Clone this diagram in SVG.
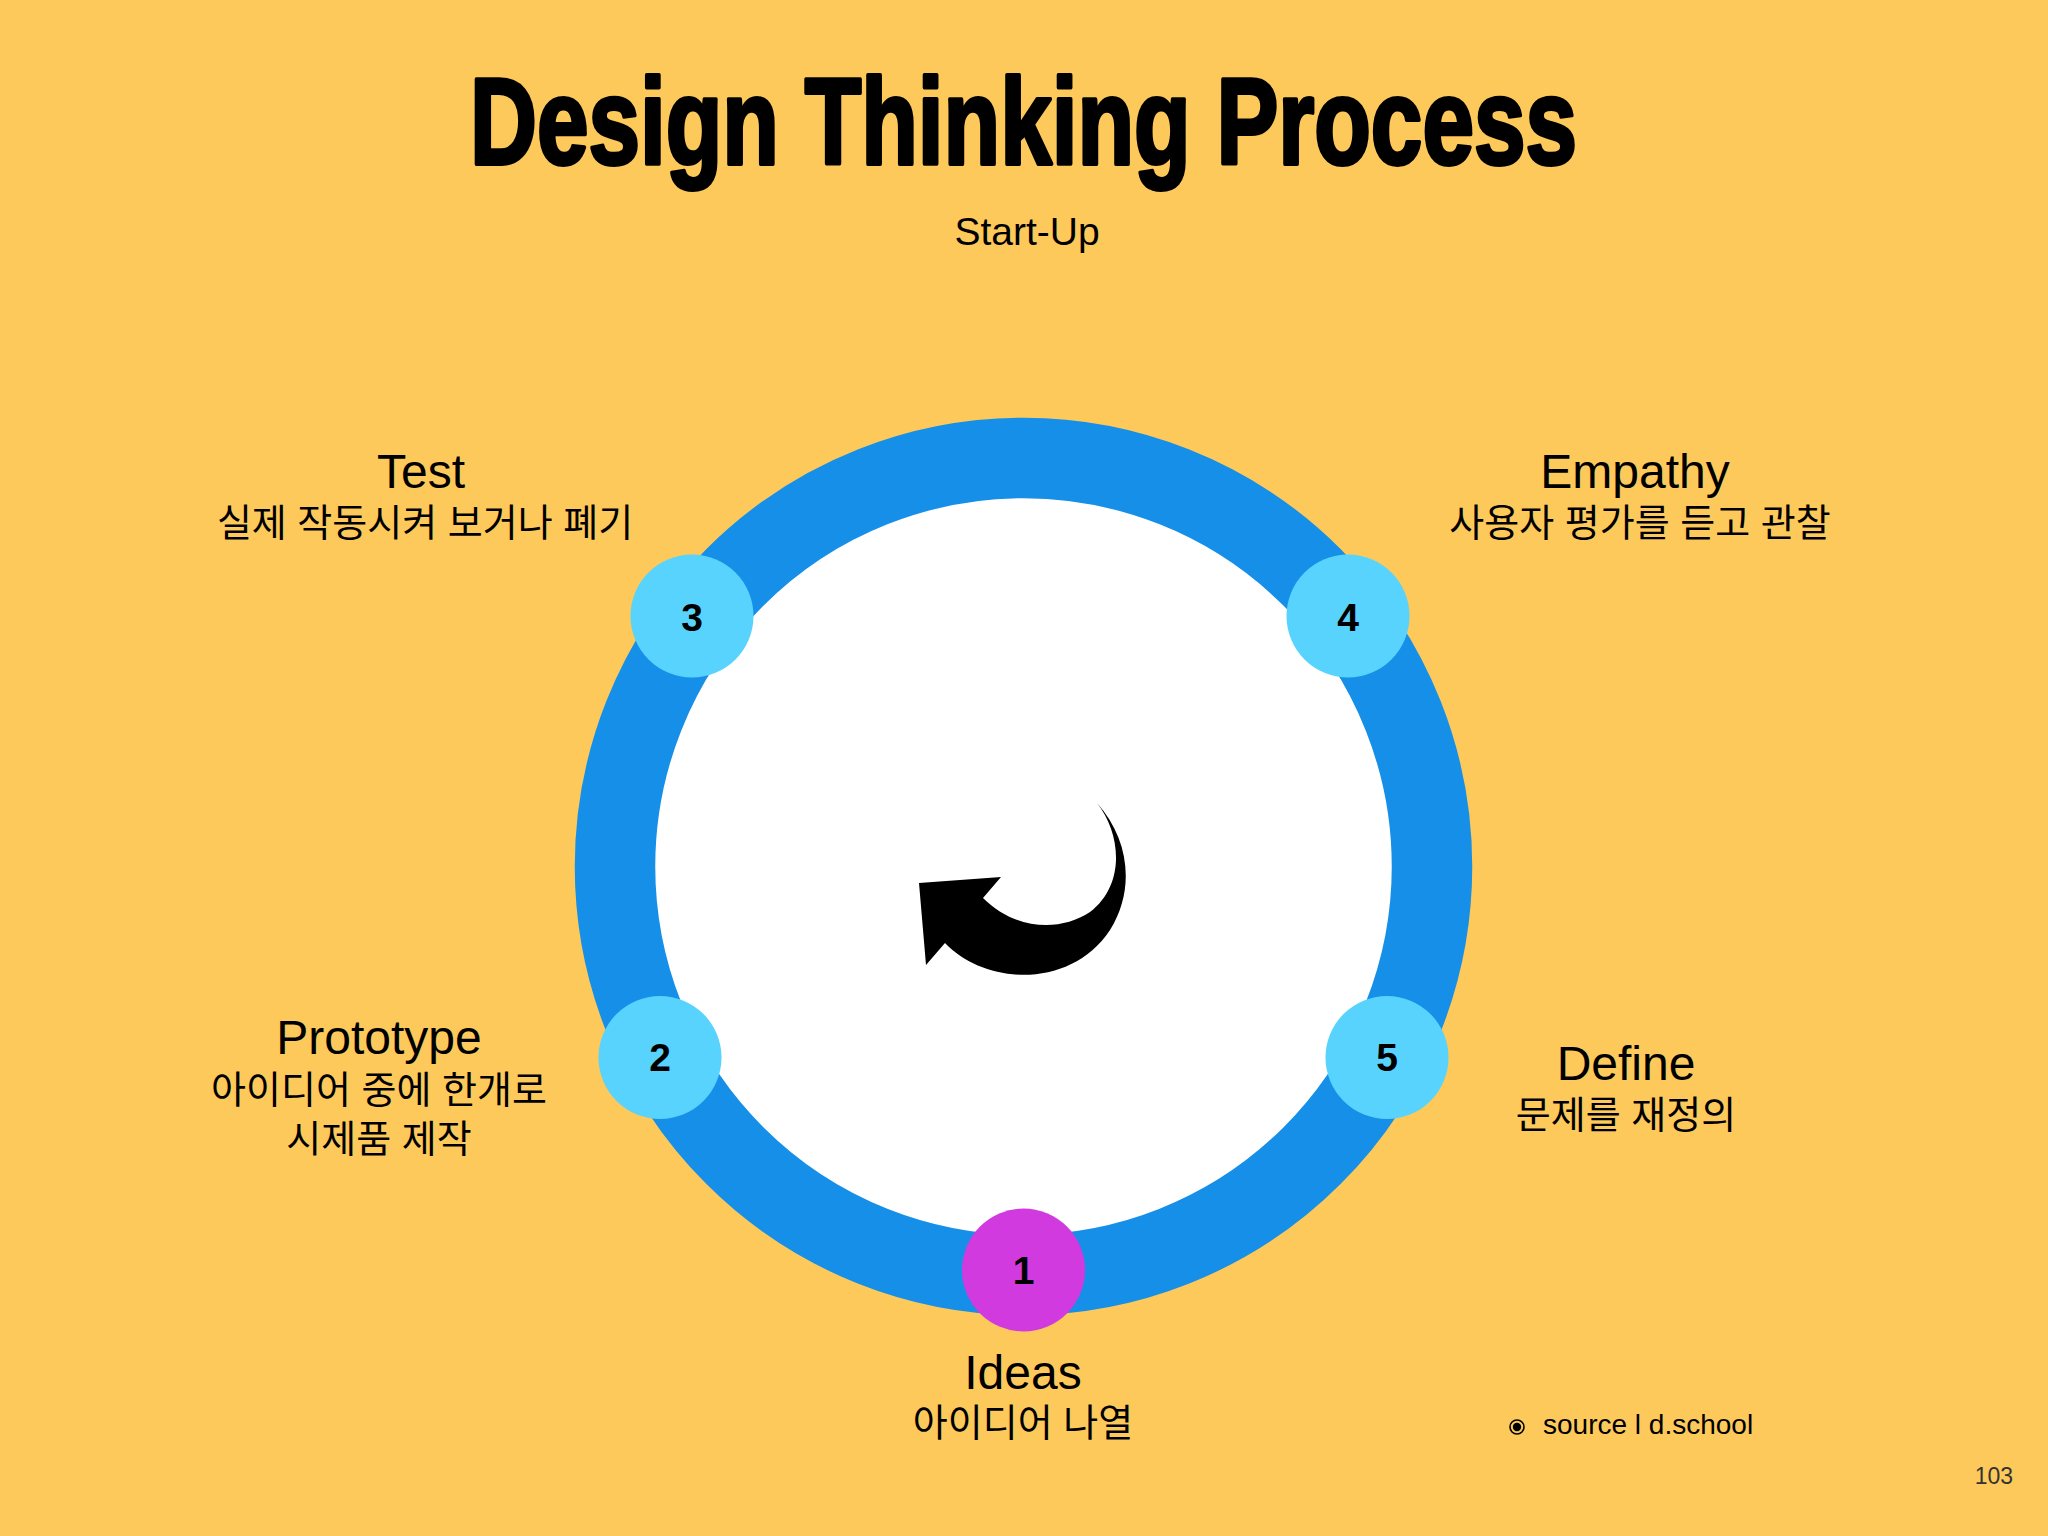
<svg xmlns="http://www.w3.org/2000/svg" width="2048" height="1536" viewBox="0 0 2048 1536">
<style>
.title{font-family:"Liberation Sans",Arial,sans-serif;font-weight:bold;fill:#000;stroke:#000;stroke-width:4;stroke-linejoin:round}
.sub{font-family:"Liberation Sans",Arial,sans-serif;font-size:39px;fill:#000}
.lbl{font-family:"Liberation Sans",Arial,sans-serif;font-size:48px;fill:#000;text-anchor:middle}
.kr{font-family:"Liberation Sans","Noto Sans CJK KR",sans-serif;font-size:38px;fill:#000;text-anchor:middle}
.num{font-family:"Liberation Sans",Arial,sans-serif;font-weight:bold;font-size:39px;fill:#000;text-anchor:middle}
.node{fill:#57D3FD}
.small{font-family:"Liberation Sans",Arial,sans-serif;font-size:28px;fill:#000}
</style>
<rect x="0" y="0" width="2048" height="1536" fill="#FDC95B"/>
<text class="title" x="470" y="164" font-size="122" textLength="1107" lengthAdjust="spacingAndGlyphs">Design Thinking Process</text>
<text class="sub" x="1027" y="245" text-anchor="middle">Start-Up</text>

<g id="cycle">
<circle cx="1023.5" cy="866.5" r="408.5" fill="#FFFFFF" stroke="#168FE8" stroke-width="80.5"/>
<path id="arrow" d="M 1097 803 C 1122 835, 1125 885, 1090 912 C 1060 932, 1015 930, 983 898 L 1001 877 L 919 883 L 926 965 L 945 943 C 985 985, 1070 990, 1110 930 C 1135 890, 1130 840, 1097 803 Z" fill="#000"/>
</g>

<g id="connectors"></g>

<g id="node1">
<circle cx="1023.5" cy="1270" r="61.5" fill="#D13ADF"/>
<text class="num" x="1023.5" y="1284">1</text>
<text class="lbl" x="1023" y="1389">Ideas</text>
<text class="kr" x="1023" y="1436">아이디어 나열</text>
</g>
<g id="node2">
<circle class="node" cx="660" cy="1057.5" r="61.5"/>
<text class="num" x="660" y="1071">2</text>
<text class="lbl" x="379" y="1054">Prototype</text>
<text class="kr" x="379" y="1103">아이디어 중에 한개로</text>
<text class="kr" x="379" y="1152">시제품 제작</text>
</g>
<g id="node3">
<circle class="node" cx="692" cy="616" r="61.5"/>
<text class="num" x="692" y="631">3</text>
<text class="lbl" x="421" y="488">Test</text>
<text class="kr" x="425" y="536">실제 작동시켜 보거나 폐기</text>
</g>
<g id="node4">
<circle class="node" cx="1348" cy="616" r="61.5"/>
<text class="num" x="1348" y="631">4</text>
<text class="lbl" x="1635" y="488">Empathy</text>
<text class="kr" x="1640" y="536">사용자 평가를 듣고 관찰</text>
</g>
<g id="node5">
<circle class="node" cx="1387" cy="1057.5" r="61.5"/>
<text class="num" x="1387" y="1071">5</text>
<text class="lbl" x="1626" y="1080">Define</text>
<text class="kr" x="1626" y="1128">문제를 재정의</text>
</g>

<g id="source">
<circle cx="1517" cy="1427" r="7" fill="none" stroke="#000" stroke-width="1.6"/>
<circle cx="1517" cy="1427" r="4.2" fill="#000"/>
<text class="small" x="1543" y="1434">source l d.school</text>
</g>
<text x="2013" y="1484" font-family="Liberation Sans, Arial, sans-serif" font-size="23" fill="#333" text-anchor="end">103</text>
</svg>
